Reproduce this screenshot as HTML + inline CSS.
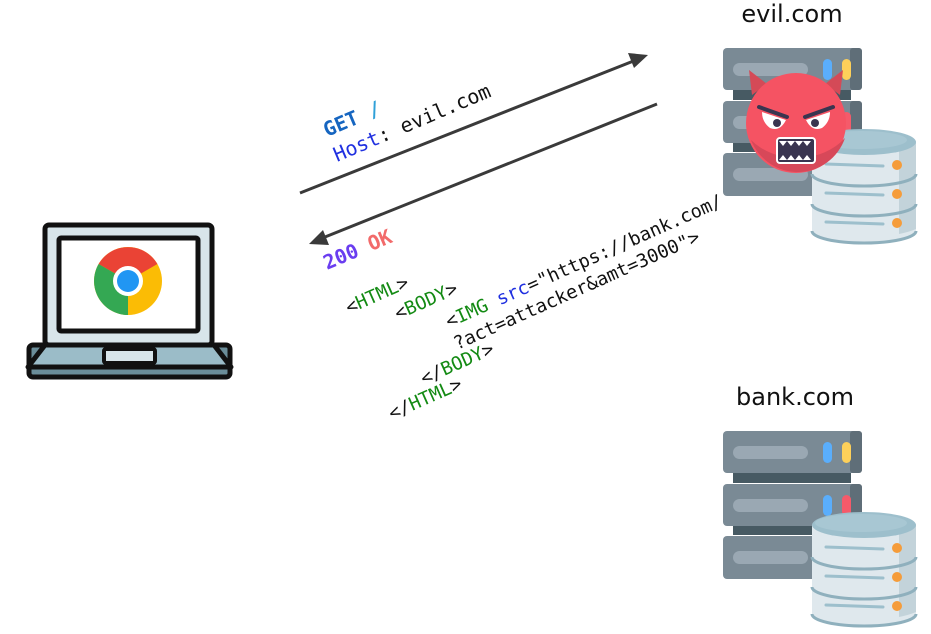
<!DOCTYPE html>
<html><head><meta charset="utf-8"><style>
html,body{margin:0;padding:0;background:#fff;width:931px;height:634px;overflow:hidden}
</style></head><body>
<svg width="931" height="634" viewBox="0 0 931 634" xmlns="http://www.w3.org/2000/svg">
<defs>
<g id="srv">
  <rect x="10" y="38" width="118" height="14" fill="#475a63"/>
  <rect x="10" y="90" width="118" height="14" fill="#475a63"/>
  <rect x="0" y="0" width="139" height="42" rx="4" fill="#7a8a95"/>
  <rect x="127" y="0" width="12" height="42" rx="3" fill="#5f6e78"/>
  <rect x="0" y="53" width="139" height="42" rx="4" fill="#7a8a95"/>
  <rect x="127" y="53" width="12" height="42" rx="3" fill="#5f6e78"/>
  <rect x="0" y="105" width="139" height="43" rx="4" fill="#7a8a95"/>
  <rect x="10" y="15" width="75" height="13" rx="6.5" fill="#9aa8b3"/>
  <rect x="10" y="68" width="75" height="13" rx="6.5" fill="#9aa8b3"/>
  <rect x="10" y="120" width="75" height="13" rx="6.5" fill="#9aa8b3"/>
  <rect x="100" y="11" width="9" height="21" rx="4.5" fill="#5aaefc"/>
  <rect x="119" y="11" width="9" height="21" rx="4.5" fill="#fdd05a"/>
  <rect x="100" y="64" width="9" height="21" rx="4.5" fill="#5aaefc"/>
  <rect x="119" y="64" width="9" height="21" rx="4.5" fill="#f55a6a"/>
  <path d="M89 94 V183 A52 12 0 0 0 193 183 V94 Z" fill="#dfe8ed"/>
  <path d="M176 94 V186 Q186 184 193 181 V94 Z" fill="#c3d3da"/>
  <ellipse cx="141" cy="94" rx="52" ry="13" fill="#9dbfcc"/>
  <ellipse cx="138" cy="92" rx="46" ry="9" fill="#a8c7d3"/>
  <path d="M89 126 A52 12 0 0 0 193 126" fill="none" stroke="#8fb0bd" stroke-width="3"/>
  <path d="M89 156 A52 12 0 0 0 193 156" fill="none" stroke="#8fb0bd" stroke-width="3"/>
  <path d="M89 183 A52 12 0 0 0 193 183" fill="none" stroke="#8fb0bd" stroke-width="3"/>
  <line x1="103" y1="116" x2="160" y2="118" stroke="#9dbfcc" stroke-width="3" stroke-linecap="round"/>
  <line x1="103" y1="145" x2="160" y2="147" stroke="#9dbfcc" stroke-width="3" stroke-linecap="round"/>
  <line x1="103" y1="174" x2="160" y2="176" stroke="#9dbfcc" stroke-width="3" stroke-linecap="round"/>
  <circle cx="174" cy="117" r="5" fill="#f59c3a"/>
  <circle cx="174" cy="146" r="5" fill="#f59c3a"/>
  <circle cx="174" cy="175" r="5" fill="#f59c3a"/>
</g>
</defs>

<text x="792" y="22" font-family="DejaVu Sans, Liberation Sans, sans-serif" font-size="24" text-anchor="middle" fill="#111">evil.com</text>
<text x="795" y="405" font-family="DejaVu Sans, Liberation Sans, sans-serif" font-size="24" text-anchor="middle" fill="#111">bank.com</text>

<use href="#srv" transform="translate(723,431)"/>
<use href="#srv" transform="translate(723,48)"/>

<path d="M752 95 L749 70 L767 84 Z" fill="#d44a57"/>
<path d="M840 95 L843 70 L825 84 Z" fill="#d44a57"/>
<circle cx="796" cy="123" r="50" fill="#f55363"/>
<path d="M751 140 A50 50 0 0 0 845 138 A60 50 0 0 1 751 140Z" fill="#d74859"/>
<path d="M762 112 L786 120 Q780 132 770 128 Q762 122 762 112Z" fill="#fff"/>
<path d="M830 112 L806 120 Q812 132 822 128 Q830 122 830 112Z" fill="#fff"/>
<circle cx="777" cy="123" r="4" fill="#3a3550"/>
<circle cx="815" cy="123" r="4" fill="#3a3550"/>
<path d="M759 107 L787 117" stroke="#3a3550" stroke-width="4" stroke-linecap="round"/>
<path d="M833 107 L805 117" stroke="#3a3550" stroke-width="4" stroke-linecap="round"/>
<rect x="777" y="138" width="38" height="25" rx="3" fill="#3a3550" stroke="#fff" stroke-width="2"/>
<path d="M779 141 l4 5 l4 -5 l4 5 l4 -5 l4 5 l4 -5 l4 5 l4 -5 Z" fill="#fff"/>
<path d="M779 160 l4 -5 l4 5 l4 -5 l4 5 l4 -5 l4 5 l4 -5 l4 5 Z" fill="#fff"/>

<rect x="29" y="345" width="201" height="32" rx="4" fill="#6a8d99" stroke="#111" stroke-width="5"/>
<path d="M45 345 L28 367 H231 L214 345 Z" fill="#9bbcc8" stroke="#111" stroke-width="5" stroke-linejoin="round"/>
<rect x="104" y="349" width="51" height="14" rx="2" fill="#d8e5ea" stroke="#111" stroke-width="4"/>
<rect x="45" y="225" width="167" height="120" rx="4" fill="#d8e5ea" stroke="#111" stroke-width="5"/>
<rect x="59" y="238" width="139" height="93" rx="2" fill="#fff" stroke="#111" stroke-width="5"/>
<g transform="translate(128,281)">
  <circle r="34" fill="#fbbc05"/>
  <path d="M0 0 L-29.4 -17 A34 34 0 0 1 29.4 -17 Z" fill="#ea4335"/>
  <path d="M0 0 L-29.4 -17 A34 34 0 0 0 0 34 Z" fill="#34a853"/>
  <circle r="15" fill="#fff"/>
  <circle r="11" fill="#2196f3"/>
</g>

<line x1="300" y1="193" x2="636" y2="60" stroke="#3a3a3a" stroke-width="3"/>
<path d="M648 55 L628 53 L634 68 Z" fill="#3a3a3a"/>
<line x1="657" y1="104" x2="320" y2="239" stroke="#3a3a3a" stroke-width="3"/>
<path d="M309 244 L323 230 L329 245 Z" fill="#3a3a3a"/>

<g font-family="DejaVu Sans Mono, Liberation Mono, monospace">
<text transform="translate(327,137) rotate(-23)" font-size="20" font-weight="bold"><tspan fill="#1565c0">GET</tspan><tspan fill="#2fa0d8"> /</tspan></text>
<text transform="translate(337,162) rotate(-23)" font-size="20"><tspan fill="#2030e0">Host</tspan><tspan fill="#111">: evil.com</tspan></text>
<text transform="translate(327,270) rotate(-23)" font-size="20" font-weight="bold"><tspan fill="#6a3df0">200</tspan><tspan fill="#f26a6a"> OK</tspan></text>
<text transform="translate(349,314) rotate(-24)" font-size="18.5"><tspan fill="#111">&lt;</tspan><tspan fill="#138a13">HTML</tspan><tspan fill="#111">&gt;</tspan></text>
<text transform="translate(398,320) rotate(-24)" font-size="18.5"><tspan fill="#111">&lt;</tspan><tspan fill="#138a13">BODY</tspan><tspan fill="#111">&gt;</tspan></text>
<text transform="translate(449,328) rotate(-24)" font-size="18.5"><tspan fill="#111">&lt;</tspan><tspan fill="#138a13">IMG</tspan><tspan fill="#2030e0"> src</tspan><tspan fill="#111">="https://bank.com/</tspan></text>
<text transform="translate(457,350) rotate(-24)" font-size="18.5" fill="#111">?act=attacker&amp;amt=3000"&gt;</text>
<text transform="translate(424,385) rotate(-24)" font-size="18.5"><tspan fill="#111">&lt;/</tspan><tspan fill="#138a13">BODY</tspan><tspan fill="#111">&gt;</tspan></text>
<text transform="translate(392,420) rotate(-24)" font-size="18.5"><tspan fill="#111">&lt;/</tspan><tspan fill="#138a13">HTML</tspan><tspan fill="#111">&gt;</tspan></text>
</g>
</svg>
</body></html>
